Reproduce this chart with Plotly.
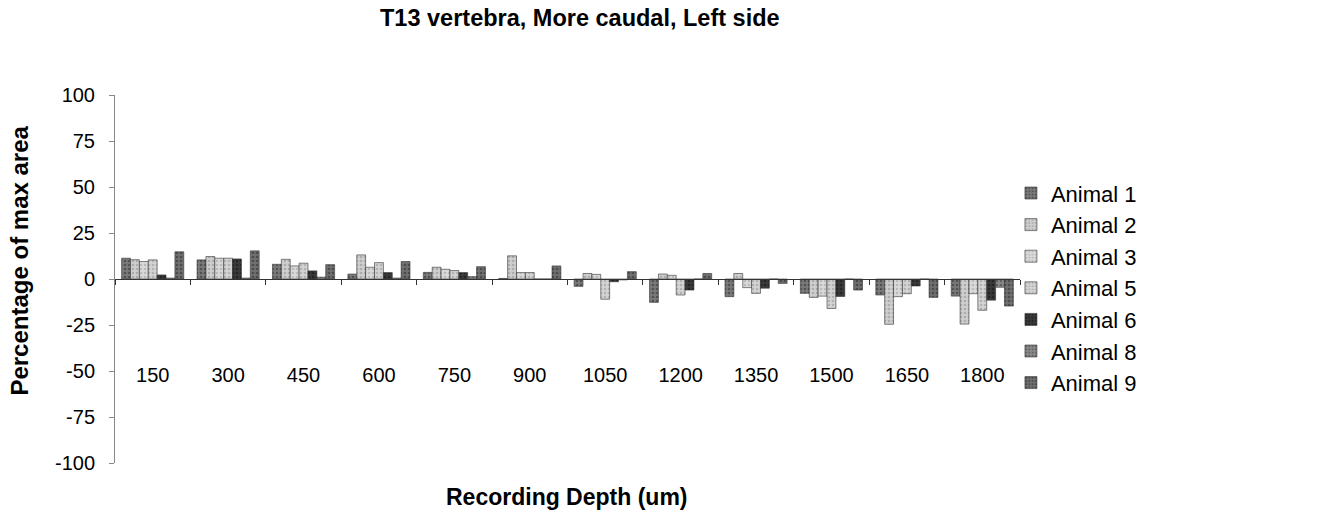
import plotly.graph_objects as go

depths = ["150", "300", "450", "600", "750", "900", "1050", "1200", "1350", "1500", "1650", "1800"]

animal_1 = [11.3, 10.4, 8.0, 2.7, 3.6, 0.3, -4.0, -12.7, -9.6, -7.8, -8.7, -9.3]
animal_2 = [10.5, 12.2, 10.7, 13.1, 6.4, 12.6, 3.0, 2.7, 3.0, -10.0, -24.6, -24.5]
animal_3 = [9.5, 11.3, 7.1, 6.4, 5.3, 3.5, 2.5, 2.0, -4.7, -9.3, -9.6, -8.0]
animal_5 = [10.4, 11.3, 8.6, 8.9, 4.6, 3.5, -11.0, -8.7, -7.8, -16.0, -8.0, -17.0]
animal_6 = [2.2, 10.9, 4.4, 3.5, 3.5, 0.0, -1.5, -6.0, -5.0, -9.5, -3.8, -11.5]
animal_8 = [0.5, 0.5, 1.0, 0.5, 1.3, 0.0, -0.5, 0.0, 0.0, 0.0, 0.0, -4.5]
animal_9 = [14.8, 15.3, 7.8, 9.5, 6.7, 7.1, 4.0, 3.0, -2.4, -6.0, -10.0, -14.7]

y_tick_values = [-100, -75, -50, -25, 0, 25, 50, 75, 100]
y_tick_labels = ["-100", "-75", "-50", "-25", "0", "25", "50", "75", "100"]

series_names = ["Animal 1", "Animal 2", "Animal 3", "Animal 5", "Animal 6", "Animal 8", "Animal 9"]
series_values = [animal_1, animal_2, animal_3, animal_5, animal_6, animal_8, animal_9]
bg_colors = ["#7a7a7a", "#cfcfcf", "#dadada", "#d4d4d4", "#3a3a3a", "#8a8a8a", "#707070"]
fg_colors = ["#2a2a2a", "#8a8a8a", "#9a9a9a", "#909090", "#101010", "#3a3a3a", "#252525"]

FONT = "Liberation Sans, Arial, sans-serif"

fig = go.Figure()
for i, (name, vals) in enumerate(zip(series_names, series_values)):
    fig.add_trace(go.Bar(
        x=depths, y=vals, name=name, legendgroup=name,
        marker=dict(color=bg_colors[i],
                    line=dict(color="#333333", width=0.6),
                    pattern=dict(shape=".", fgcolor=fg_colors[i], bgcolor=bg_colors[i],
                                 size=4, solidity=0.35)),
    ))

fig.update_layout(
    width=1322, height=517,
    margin=dict(l=115, r=302, t=95, b=54),
    paper_bgcolor="white", plot_bgcolor="white",
    barmode="group", bargap=0.176, bargroupgap=0,
    font=dict(family=FONT, size=20, color="black"),
    showlegend=True,
    legend=dict(x=0.990, xanchor="left", y=0.475, yanchor="middle",
                font=dict(family=FONT, size=22, color="black"),
                tracegroupgap=0, itemwidth=30, bgcolor="rgba(0,0,0,0)"),
    xaxis=dict(type="category", anchor="free", position=0.5,
               showline=True, linecolor="#333333", linewidth=1,
               ticks="outside", tickson="boundaries", ticklen=5, tickcolor="#333333",
               ticklabelstandoff=78, showgrid=False, zeroline=False,
               tickfont=dict(family=FONT, size=20, color="black")),
    yaxis=dict(range=[-100, 100], tickvals=y_tick_values, ticktext=y_tick_labels,
               showline=True, linecolor="#888888", linewidth=1,
               ticks="outside", ticklen=5, tickcolor="#888888",
               ticklabelstandoff=10,
               showgrid=False, zeroline=False,
               tickfont=dict(family=FONT, size=20, color="black")),
    annotations=[
        dict(text="<b>T13 vertebra, More caudal, Left side</b>", xref="paper", yref="paper",
             x=0.514, y=1.209, xanchor="center", yanchor="middle", showarrow=False,
             font=dict(family=FONT, size=23.5, color="black")),
        dict(text="<b>Recording Depth (um)</b>", xref="paper", yref="paper",
             x=0.4995, y=-0.092, xanchor="center", yanchor="middle", showarrow=False,
             font=dict(family=FONT, size=23, color="black")),
        dict(text="<b>Percentage of max area</b>", xref="paper", yref="paper",
             x=-0.105, y=0.55, xanchor="center", yanchor="middle", showarrow=False,
             textangle=-90, font=dict(family=FONT, size=24, color="black")),
    ],
)

fig.write_html("out.html")
